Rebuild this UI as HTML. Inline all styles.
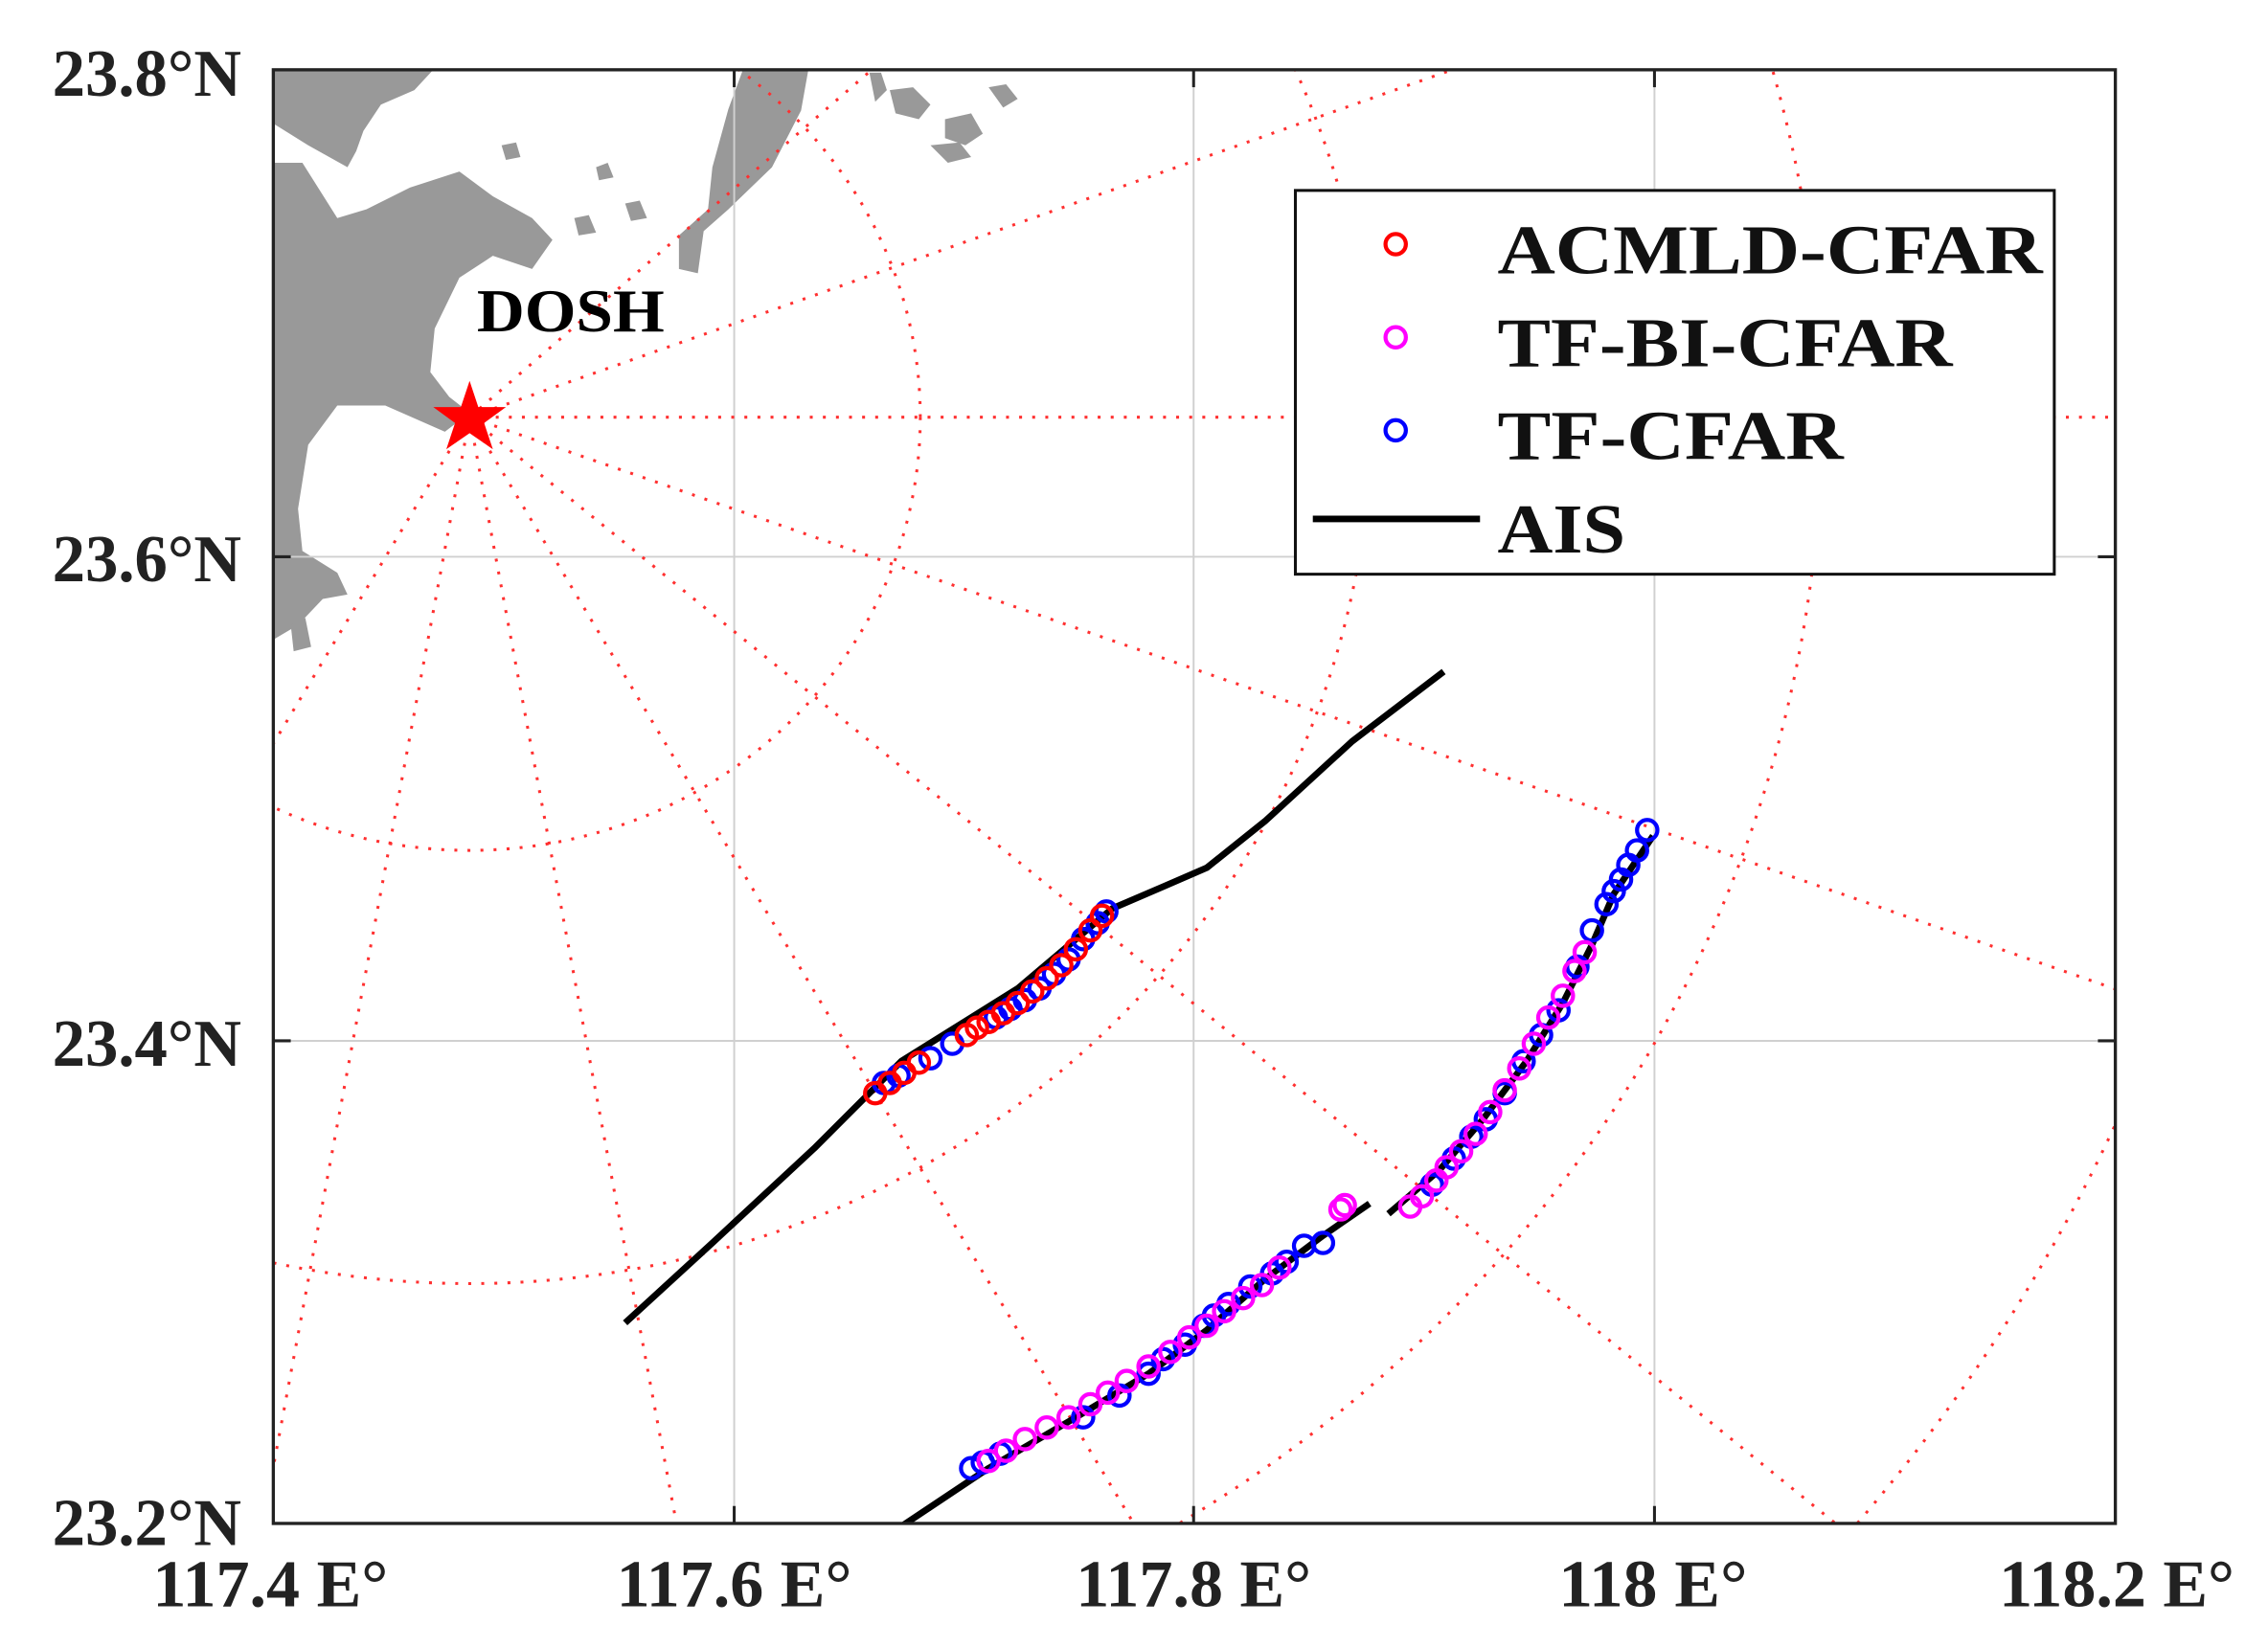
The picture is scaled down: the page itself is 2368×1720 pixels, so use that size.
<!DOCTYPE html>
<html><head><meta charset="utf-8"><style>html,body{margin:0;padding:0;background:#fff;width:2368px;height:1720px;overflow:hidden}svg{display:block}</style></head>
<body>
<svg width="2368" height="1720" viewBox="0 0 1560 1133" preserveAspectRatio="none" xmlns="http://www.w3.org/2000/svg">
<rect width="1560" height="1133" fill="#fff"/>
<defs><clipPath id="c"><rect x="188" y="48" width="1267" height="1000"/></clipPath></defs>
<g clip-path="url(#c)">
<g fill="#999">
<polygon points="188,48 298,48 285,62 262,72 250,90 245,104 239,115 212,100 188,85"/>
<polygon points="188,112 208,112 232,150 252,144 282,129 316,118 339,135 366,150 380,165 366,185 339,176 316,191 299,226 296,256 309,273 323,284 306,297 265,279 232,279 212,306 205,350 208,379 232,394 239,409 222,412 205,430 188,440"/>
<polygon points="511,48 556,48 551,76 531,115 501,144 484,159 480,188 467,185 467,162 487,144 490,115 501,75"/>
<polygon points="598,50 606,50 610,62 602,70"/>
<polygon points="612,62 628,60 640,72 632,82 616,78"/>
<polygon points="650,82 668,78 676,92 664,100 650,95"/>
<polygon points="680,60 692,58 700,68 690,74"/>
<polygon points="640,100 660,98 668,108 652,112"/>
<polygon points="430,140 440,138 445,150 434,152"/>
<polygon points="395,150 405,148 410,160 398,162"/>
<polygon points="345,100 355,98 358,108 348,110"/>
<polygon points="410,115 418,112 422,122 412,124"/>
<polygon points="200,430 210,425 214,445 202,448"/>
</g>
<g stroke="#d0d0d0" stroke-width="1.3">
<line x1="505" y1="48" x2="505" y2="1048"/><line x1="821" y1="48" x2="821" y2="1048"/><line x1="1138" y1="48" x2="1138" y2="1048"/>
<line x1="188" y1="383" x2="1455" y2="383"/><line x1="188" y1="716" x2="1455" y2="716"/>
</g>
<g stroke="#ff3030" stroke-width="2" stroke-dasharray="2,7" fill="none">
<ellipse cx="323" cy="287" rx="310" ry="298"/>
<ellipse cx="323" cy="287" rx="620" ry="596"/>
<ellipse cx="323" cy="287" rx="930" ry="894"/>
<ellipse cx="323" cy="287" rx="1240" ry="1192"/>
<line x1="323" y1="287" x2="1500" y2="287"/>
<line x1="323" y1="287" x2="1078" y2="20"/>
<line x1="323" y1="287" x2="632" y2="20"/>
<line x1="323" y1="287" x2="1500" y2="696"/>
<line x1="323" y1="287" x2="1323" y2="1097"/>
<line x1="323" y1="287" x2="811" y2="1100"/>
<line x1="323" y1="287" x2="475" y2="1100"/>
<line x1="323" y1="287" x2="171" y2="1100"/>
<line x1="323" y1="287" x2="-200" y2="1157"/>
</g>
<g stroke="#000" stroke-width="4.5" fill="none" stroke-linejoin="round">
<polyline points="430,910 490,855 560,790 620,730 700,680 765,625 800,610 830,597 870,565 930,510 993,462"/>
<polyline points="620,1050 680,1010 740,975 790,945 830,915 870,880 910,850 942,828"/>
<polyline points="955,835 990,805 1020,770 1050,730 1075,690 1095,650 1110,615 1137,575"/>
</g>
<g fill="none" stroke-width="2.8" stroke="#0000ff">
<circle cx="608" cy="745" r="7"/><circle cx="618" cy="740" r="7"/><circle cx="640" cy="728" r="7"/><circle cx="655" cy="718" r="7"/><circle cx="685" cy="700" r="7"/><circle cx="695" cy="694" r="7"/><circle cx="705" cy="688" r="7"/><circle cx="715" cy="680" r="7"/><circle cx="725" cy="670" r="7"/><circle cx="735" cy="660" r="7"/><circle cx="745" cy="646" r="7"/><circle cx="755" cy="635" r="7"/><circle cx="761" cy="627" r="7"/>
</g>
<g fill="none" stroke-width="2.8" stroke="#ff0000">
<circle cx="602" cy="752" r="7"/><circle cx="612" cy="745" r="7"/><circle cx="622" cy="738" r="7"/><circle cx="632" cy="731" r="7"/><circle cx="665" cy="712" r="7"/><circle cx="672" cy="707" r="7"/><circle cx="680" cy="703" r="7"/><circle cx="690" cy="697" r="7"/><circle cx="700" cy="690" r="7"/><circle cx="710" cy="682" r="7"/><circle cx="720" cy="673" r="7"/><circle cx="730" cy="664" r="7"/><circle cx="740" cy="653" r="7"/><circle cx="750" cy="640" r="7"/><circle cx="758" cy="630" r="7"/>
</g>
<g fill="none" stroke-width="2.8" stroke="#0000ff">
<circle cx="668" cy="1010" r="7"/><circle cx="676" cy="1006" r="7"/><circle cx="688" cy="1000" r="7"/><circle cx="745" cy="975" r="7"/><circle cx="770" cy="960" r="7"/><circle cx="790" cy="945" r="7"/><circle cx="800" cy="935" r="7"/><circle cx="815" cy="925" r="7"/><circle cx="828" cy="912" r="7"/><circle cx="835" cy="905" r="7"/><circle cx="845" cy="897" r="7"/><circle cx="860" cy="885" r="7"/><circle cx="875" cy="876" r="7"/><circle cx="885" cy="868" r="7"/><circle cx="897" cy="857" r="7"/><circle cx="910" cy="855" r="7"/>
<circle cx="985" cy="815" r="7"/><circle cx="1000" cy="797" r="7"/><circle cx="1012" cy="782" r="7"/><circle cx="1022" cy="770" r="7"/><circle cx="1035" cy="752" r="7"/><circle cx="1048" cy="730" r="7"/><circle cx="1060" cy="712" r="7"/><circle cx="1072" cy="695" r="7"/><circle cx="1085" cy="665" r="7"/><circle cx="1095" cy="640" r="7"/><circle cx="1105" cy="622" r="7"/><circle cx="1110" cy="613" r="7"/><circle cx="1115" cy="605" r="7"/><circle cx="1120" cy="595" r="7"/><circle cx="1126" cy="585" r="7"/><circle cx="1133" cy="571" r="7"/>
</g>
<g fill="none" stroke-width="2.8" stroke="#ff00ff">
<circle cx="680" cy="1005" r="7"/><circle cx="692" cy="998" r="7"/><circle cx="705" cy="990" r="7"/><circle cx="720" cy="982" r="7"/><circle cx="735" cy="975" r="7"/><circle cx="750" cy="966" r="7"/><circle cx="762" cy="958" r="7"/><circle cx="775" cy="950" r="7"/><circle cx="790" cy="940" r="7"/><circle cx="805" cy="930" r="7"/><circle cx="818" cy="920" r="7"/><circle cx="830" cy="912" r="7"/><circle cx="842" cy="902" r="7"/><circle cx="855" cy="893" r="7"/><circle cx="868" cy="884" r="7"/><circle cx="880" cy="872" r="7"/><circle cx="922" cy="832" r="7"/><circle cx="925" cy="829" r="7"/>
<circle cx="970" cy="830" r="7"/><circle cx="978" cy="823" r="7"/><circle cx="988" cy="812" r="7"/><circle cx="995" cy="803" r="7"/><circle cx="1005" cy="792" r="7"/><circle cx="1015" cy="780" r="7"/><circle cx="1025" cy="765" r="7"/><circle cx="1035" cy="750" r="7"/><circle cx="1045" cy="735" r="7"/><circle cx="1055" cy="718" r="7"/><circle cx="1065" cy="700" r="7"/><circle cx="1075" cy="685" r="7"/><circle cx="1083" cy="668" r="7"/><circle cx="1090" cy="655" r="7"/>
</g>
<polygon fill="#ff0000" points="323,262 329,280 348,280 333,291 339,309 323,298 307,309 313,291 298,280 317,280"/>
</g>
<rect x="188" y="48" width="1267" height="1000" fill="none" stroke="#222" stroke-width="2.2"/>
<g stroke="#222" stroke-width="2">
<line x1="505" y1="1048" x2="505" y2="1036"/><line x1="821" y1="1048" x2="821" y2="1036"/><line x1="1138" y1="1048" x2="1138" y2="1036"/>
<line x1="505" y1="48" x2="505" y2="60"/><line x1="821" y1="48" x2="821" y2="60"/><line x1="1138" y1="48" x2="1138" y2="60"/>
<line x1="188" y1="383" x2="200" y2="383"/><line x1="188" y1="716" x2="200" y2="716"/>
<line x1="1455" y1="383" x2="1443" y2="383"/><line x1="1455" y1="716" x2="1443" y2="716"/>
</g>
<text x="328" y="228" font-family="Liberation Serif, serif" font-weight="bold" font-size="42" textLength="129" lengthAdjust="spacingAndGlyphs">DOSH</text>
<g font-family="Liberation Serif, serif" font-weight="bold" font-size="46" fill="#222">
<text x="36" y="66" textLength="130" lengthAdjust="spacingAndGlyphs">23.8°N</text>
<text x="36" y="400" textLength="130" lengthAdjust="spacingAndGlyphs">23.6°N</text>
<text x="36" y="733" textLength="130" lengthAdjust="spacingAndGlyphs">23.4°N</text>
<text x="36" y="1063" textLength="130" lengthAdjust="spacingAndGlyphs">23.2°N</text>
<text x="105" y="1105" textLength="162" lengthAdjust="spacingAndGlyphs">117.4 E°</text>
<text x="424" y="1105" textLength="162" lengthAdjust="spacingAndGlyphs">117.6 E°</text>
<text x="740" y="1105" textLength="162" lengthAdjust="spacingAndGlyphs">117.8 E°</text>
<text x="1072" y="1105" textLength="130" lengthAdjust="spacingAndGlyphs">118 E°</text>
<text x="1375" y="1105" textLength="162" lengthAdjust="spacingAndGlyphs">118.2 E°</text>
</g>
<rect x="891" y="131" width="522" height="264" fill="#fff" stroke="#111" stroke-width="2"/>
<g fill="none" stroke-width="2.8">
<circle cx="960" cy="168" r="7" stroke="#ff0000"/>
<circle cx="960" cy="232" r="7" stroke="#ff00ff"/>
<circle cx="960" cy="296" r="7" stroke="#0000ff"/>
</g>
<line x1="903" y1="357" x2="1018" y2="357" stroke="#000" stroke-width="4.5"/>
<g font-family="Liberation Serif, serif" font-weight="bold" font-size="48" fill="#111">
<text x="1030" y="188" textLength="375" lengthAdjust="spacingAndGlyphs">ACMLD-CFAR</text>
<text x="1030" y="252" textLength="313" lengthAdjust="spacingAndGlyphs">TF-BI-CFAR</text>
<text x="1030" y="316" textLength="238" lengthAdjust="spacingAndGlyphs">TF-CFAR</text>
<text x="1030" y="380" textLength="88" lengthAdjust="spacingAndGlyphs">AIS</text>
</g>
</svg>
</body></html>
